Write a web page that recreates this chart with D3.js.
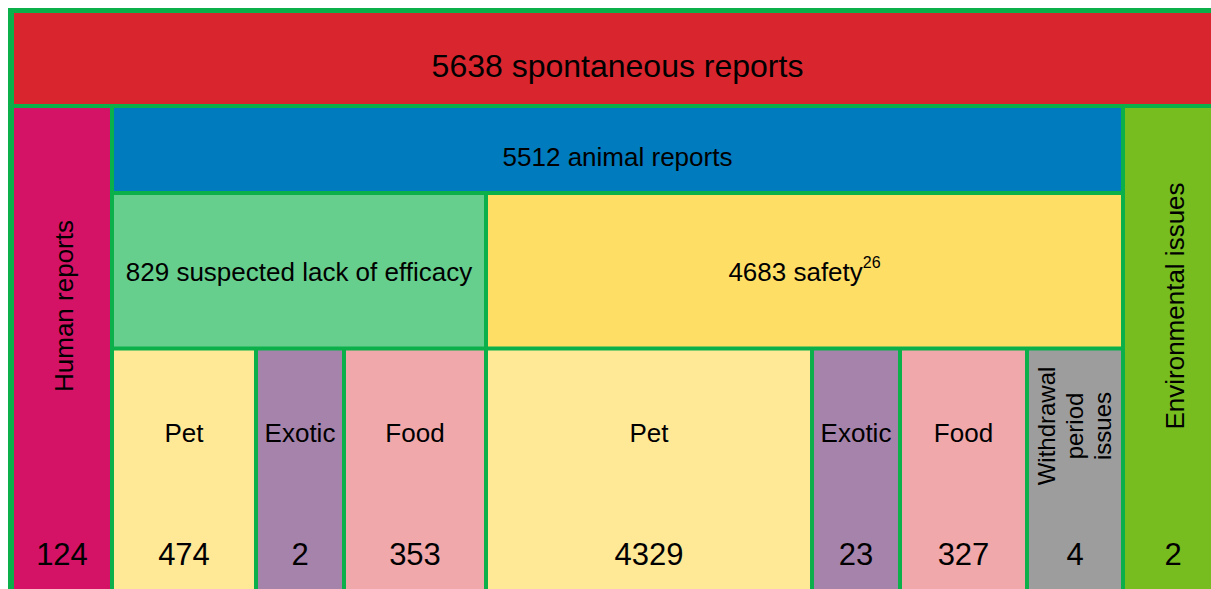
<!DOCTYPE html>
<html>
<head>
<meta charset="utf-8">
<script src="https://cdn.jsdelivr.net/npm/d3@7"></script>
<style>
  html, body { margin: 0; padding: 0; background: #fff; overflow: hidden; }
  svg { display: block; }
</style>
</head>
<body>
<div id="chart"></div>
<script>
const LEAF_LABELS = ['Human reports', 'Pet', 'Exotic', 'Food', 'Pet', 'Exotic', 'Food', 'Withdrawal period issues', 'Environmental issues']
const LEAF_VALUES = [124, 474, 2, 353, 4329, 23, 327, 4, 2]
const GROUP_LABELS = ['spontaneous reports', 'animal reports', 'suspected lack of efficacy', 'safety']
const GROUP_VALUES = [5638, 5512, 829, 4683]
const GROUP_NOTES = ['', '', '', '26']

// Caracteristicas do quadro
const WIDTH = 1211
const HEIGHT = 589
const GAP = 4
const BORDER_COLOR = '#0bb04a'
const COL_WIDTHS = [100, 144, 88, 142, 326, 88, 127, 96, 100]
const ROW_HEIGHTS = [95, 87, 155.5, 272]
const FONT = 'Arial, "Liberation Sans", Helvetica, sans-serif'

const LEAF_COLORS = ['#d41367', '#ffe997', '#a683ab', '#f0a8ab', '#ffe997', '#a683ab', '#f0a8ab', '#9d9d9d', '#77bd20']
const GROUP_COLORS = ['#d9262e', '#007bbd', '#66cf8e', '#ffde66']
// colunas / linhas que cada grupo ocupa [col0, col1, row0, row1]
const GROUP_SPANS = [[0, 9, 0, 1], [1, 8, 1, 2], [1, 4, 2, 3], [4, 8, 2, 3]]

const svg = d3.select('#chart')
  .append('svg')
  .attr('width', WIDTH)
  .attr('height', HEIGHT)

const colEdges = [0, ...d3.cumsum(COL_WIDTHS)]
const rowEdges = [0, ...d3.cumsum(ROW_HEIGHTS)]

const x = d3.scaleLinear() // limites das colunas
  .domain([0, d3.sum(COL_WIDTHS)])
  .range([12, 12 + d3.sum(COL_WIDTHS)])

const y = d3.scaleLinear() // limites das linhas
  .domain([0, d3.sum(ROW_HEIGHTS)])
  .range([11, 11 + d3.sum(ROW_HEIGHTS)])

const cx = i => x(colEdges[i])
const ry = i => y(rowEdges[i])

// Fundo verde = linhas de grelha
svg.append('rect')
  .attr('x', 8)
  .attr('y', 8)
  .attr('width', WIDTH + 40)
  .attr('height', HEIGHT + 40)
  .attr('fill', BORDER_COLOR)

const cells = []
GROUP_SPANS.forEach((s, i) => {
  cells.push({ c0: s[0], c1: s[1], r0: s[2], r1: s[3], color: GROUP_COLORS[i] })
})
LEAF_LABELS.forEach((d, i) => {
  const side = i === 0 || i === LEAF_LABELS.length - 1
  cells.push({ c0: i, c1: i + 1, r0: side ? 1 : 3, r1: 4, color: LEAF_COLORS[i] })
})

svg.append('g')
  .selectAll('rect')
  .data(cells)
  .join('rect')
  .attr('x', d => cx(d.c0) + GAP / 2)
  .attr('y', d => ry(d.r0) + GAP / 2)
  .attr('width', d => cx(d.c1) - cx(d.c0) - GAP)
  .attr('height', d => ry(d.r1) - ry(d.r0) - GAP)
  .attr('fill', d => d.color)

const mid = (a, b) => (a + b) / 2

// Textos dos grupos
const GROUP_SIZES = [32, 26, 26, 26]
const GROUP_BASE = [77, 166, 281, 281]
const groups = GROUP_LABELS.map((d, i) => ({ label: d, value: GROUP_VALUES[i], note: GROUP_NOTES[i], i }))

const groupText = svg.append('g')
  .selectAll('text')
  .data(groups)
  .join('text')
  .attr('x', d => mid(cx(GROUP_SPANS[d.i][0]), cx(GROUP_SPANS[d.i][1])))
  .attr('y', d => GROUP_BASE[d.i])
  .attr('text-anchor', 'middle')
  .style('font-family', FONT)
  .style('font-size', d => GROUP_SIZES[d.i] + 'px')
  .style('fill', '#000')

groupText.append('tspan')
  .text(d => d.value + ' ' + d.label)
groupText.filter(d => d.note !== '')
  .append('tspan')
  .attr('dy', -13)
  .style('font-size', '16px')
  .text(d => d.note)

// Textos das folhas
const leaves = svg.append('g')
  .selectAll('g')
  .data(LEAF_LABELS.map((d, i) => ({ label: d, value: LEAF_VALUES[i], i })))
  .join('g')

leaves.append('text')
  .attr('x', d => mid(cx(d.i), cx(d.i + 1)))
  .attr('y', 565)
  .attr('text-anchor', 'middle')
  .style('font-family', FONT)
  .style('font-size', '31px')
  .style('fill', '#000')
  .text(d => d.value)

const last = LEAF_LABELS.length - 1
leaves.filter(d => d.i > 0 && d.i < last - 1)
  .append('text')
  .attr('x', d => mid(cx(d.i), cx(d.i + 1)))
  .attr('y', 442)
  .attr('text-anchor', 'middle')
  .style('font-family', FONT)
  .style('font-size', '26px')
  .style('fill', '#000')
  .text(d => d.label)

// Etiquetas verticais (Human reports / Environmental issues)
leaves.filter(d => d.i === 0 || d.i === last)
  .append('text')
  .attr('transform', d => `translate(${mid(cx(d.i), cx(d.i + 1)) + 11}, 306) rotate(-90)`)
  .attr('text-anchor', 'middle')
  .style('font-family', FONT)
  .style('font-size', '26px')
  .style('fill', '#000')
  .text(d => d.label)

// Withdrawal period issues em tres linhas
const wd = leaves.filter(d => d.i === last - 1)
  .append('text')
  .attr('transform', d => `translate(${mid(cx(d.i), cx(d.i + 1))}, 426) rotate(-90)`)
  .attr('text-anchor', 'middle')
  .style('font-family', FONT)
  .style('font-size', '24px')
  .style('fill', '#000')

wd.selectAll('tspan')
  .data(d => ['Withdrawal', 'period', 'issues'].map((w, k) => ({ w, k })))
  .join('tspan')
  .attr('x', 0)
  .attr('y', d => -20 + d.k * 28)
  .text(d => d.w)
</script>
</body>
</html>
